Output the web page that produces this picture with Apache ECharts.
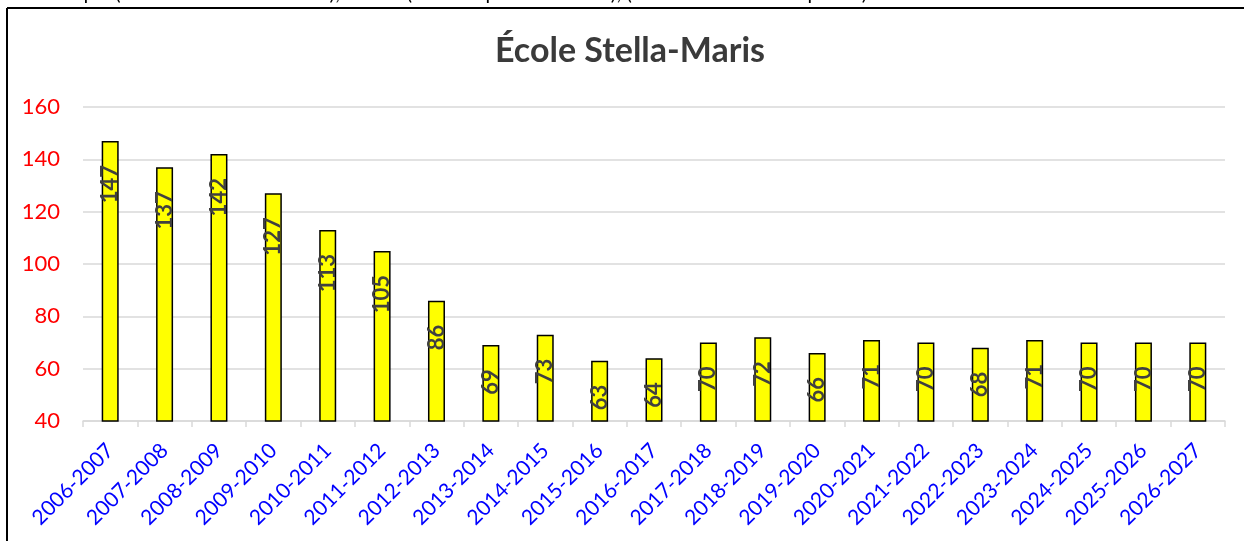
<!DOCTYPE html>
<html><head><meta charset="utf-8">
<script src="https://cdn.jsdelivr.net/npm/echarts@6/dist/echarts.min.js"></script>
<style>html,body{margin:0;padding:0;background:#fff}#c{width:1244px;height:541px}</style>
</head><body><div id="c"></div>
<script>
const title = "École Stella-Maris";
const headerText = "Historique (nombre d'élèves inscrits); Actuel (au 30 septembre 2016); (Prévisions des inscriptions)";
const categories = ["2006-2007","2007-2008","2008-2009","2009-2010","2010-2011","2011-2012","2012-2013","2013-2014","2014-2015","2015-2016","2016-2017","2017-2018","2018-2019","2019-2020","2020-2021","2021-2022","2022-2023","2023-2024","2024-2025","2025-2026","2026-2027"];
const values = [147,137,142,127,113,105,86,69,73,63,64,70,72,66,71,70,68,71,70,70,70];
const yTicks = {min:40, max:160, interval:20};

const FONT = "Lato, 'Open Sans', sans-serif";
const chart = echarts.init(document.getElementById('c'), null, {renderer:'canvas'});
chart.setOption({
  backgroundColor:'#fff',
  animation:false,
  grid:{left:83, right:19, top:107, bottom:120, containLabel:false},
  xAxis:{type:'category', data:categories, boundaryGap:true,
    axisLine:{lineStyle:{color:'#d9d9d9', width:1.5}},
    axisTick:{show:true, length:6, lineStyle:{color:'#d9d9d9', width:1.5}},
    axisLabel:{rotate:45, interval:0, color:'#0000ff', fontFamily:FONT, fontSize:21, margin:26}},
  yAxis:{type:'value', min:yTicks.min, max:yTicks.max, interval:yTicks.interval,
    axisLine:{show:false}, axisTick:{show:false},
    splitLine:{lineStyle:{color:'#d9d9d9', width:1.5}},
    axisLabel:{color:'#ff0000', fontFamily:FONT, fontSize:22, margin:23}},
  series:[{type:'bar', data:values, barWidth:17,
    itemStyle:{color:'#ffff00', borderColor:'#000', borderWidth:1.5},
    label:{show:true, position:'insideTop', rotate:90, align:'right', verticalAlign:'middle', distance:24,
      color:'#404040', fontFamily:FONT, fontSize:22, fontWeight:'bold'}}],
  graphic:[
    {type:'text', left:18, top:-16, z:0, style:{text:headerText, font:"20px "+FONT, fill:'#000'}},
    {type:'rect', shape:{x:0,y:7,width:1244,height:20}, style:{fill:'#fff'}, z:1},
    {type:'text', x:630, y:51, z:5, style:{text:title, font:"bold 34px "+FONT, fill:'#3a3a3a', align:'center', verticalAlign:'middle'}},
    {type:'line', shape:{x1:7,y1:8,x2:1244,y2:8}, style:{stroke:'#000', lineWidth:2}, z:10},
    {type:'line', shape:{x1:7,y1:8,x2:7,y2:541}, style:{stroke:'#000', lineWidth:2}, z:10}
  ]
});
</script></body></html>
